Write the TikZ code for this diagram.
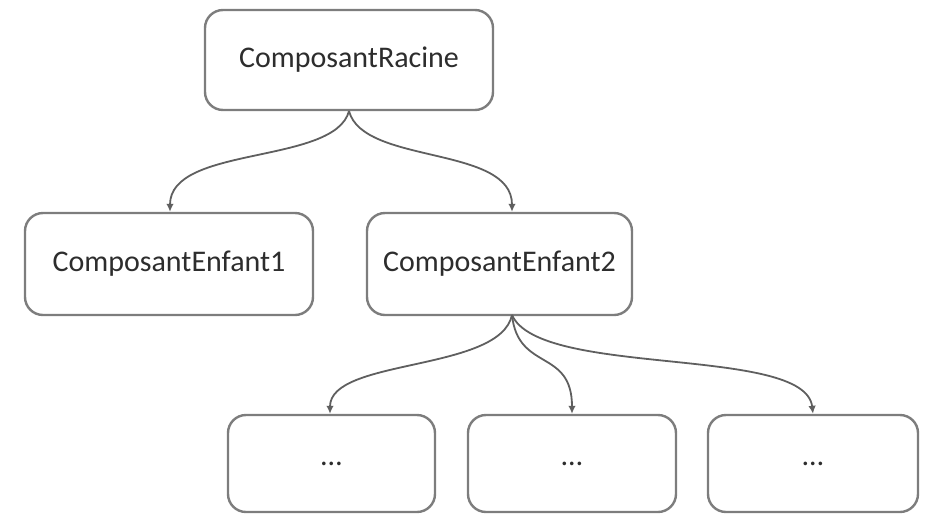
\documentclass[tikz,border=0pt]{standalone}
\usepackage{fontspec}
\setmainfont{Carlito}
\usetikzlibrary{arrows.meta}
\definecolor{boxline}{RGB}{125,125,125}
\definecolor{linkline}{RGB}{95,95,95}
\definecolor{labeltext}{RGB}{45,45,45}
\begin{document}
\begin{tikzpicture}[x=1pt,y=1pt,
  comp/.style={draw=boxline, line width=2.4pt, rounded corners=18pt, fill=white,
    text=labeltext, font=\fontsize{30}{36}\selectfont, inner sep=0pt},
  link/.style={draw=linkline, line width=1.8pt,
    -{Latex[length=8pt,width=7.5pt]}}
]
\useasboundingbox (0,0) rectangle (927,-515);

% component nodes
\node[comp, minimum width=288, minimum height=100] (root) at (349,-60) {ComposantRacine};
\node[comp, minimum width=288, minimum height=102] (c1) at (169,-264) {ComposantEnfant1};
\node[comp, minimum width=265, minimum height=102] (c2) at (499.5,-264) {ComposantEnfant2};
\node[comp, minimum width=207, minimum height=97] (g1) at (331.5,-463.5) {…};
\node[comp, minimum width=208, minimum height=97] (g2) at (572,-463.5) {…};
\node[comp, minimum width=210, minimum height=97] (g3) at (813,-463.5) {…};

% anchor points on the parents and children
\coordinate (rs) at (349,-111);
\coordinate (c2s) at (512,-315);

% links from the root
\draw[link] (rs) .. controls (335,-165) and (170,-145) .. (c1.north -| 170,0);
\draw[link] (rs) .. controls (363,-165) and (512,-145) .. (c2.north -| 512,0);

% links from the second child
\draw[link] (c2s) .. controls (500,-372) and (330,-358) .. (g1.north -| 330,0);
\draw[link] (c2s) .. controls (518,-372) and (572,-348) .. (g2.north);
\draw[link] (c2s) .. controls (540,-378) and (805,-345) .. (g3.north);
\end{tikzpicture}
\end{document}
